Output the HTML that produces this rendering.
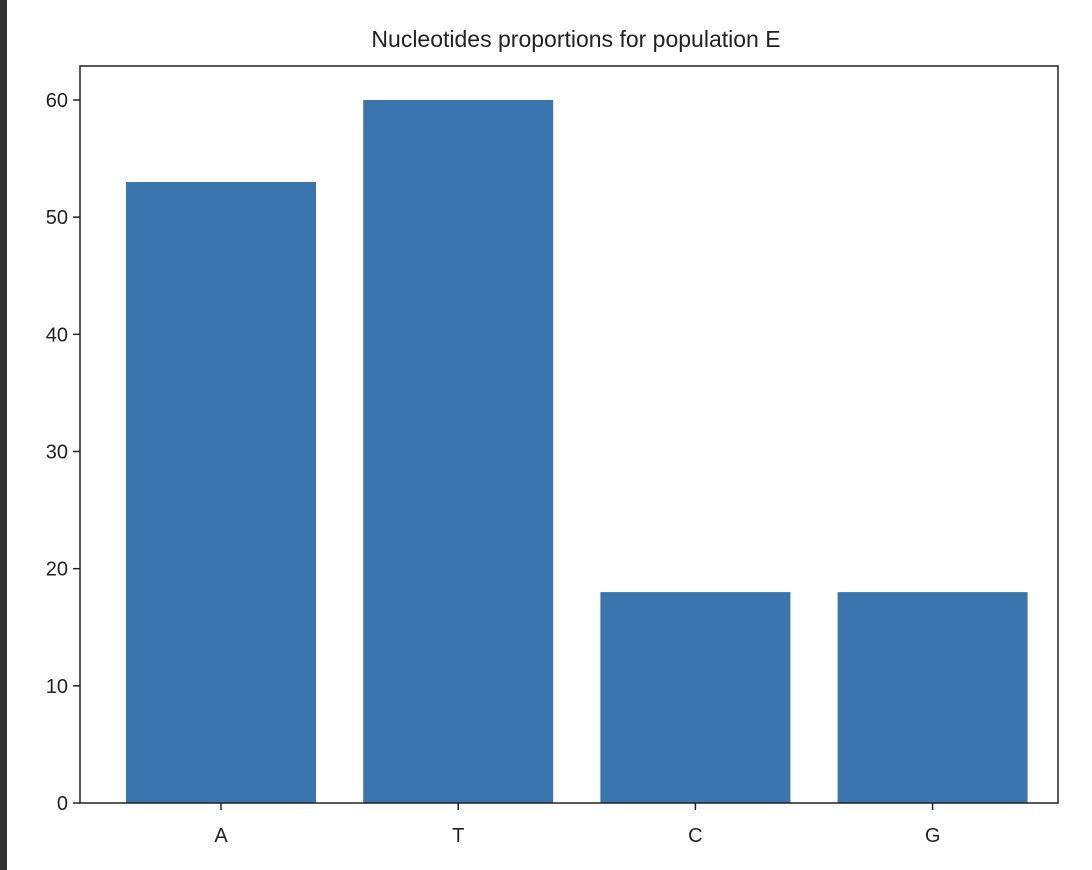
<!DOCTYPE html>
<html><head><meta charset="utf-8"><style>
body{margin:0;background:#fff;}
svg{display:block;font-family:"Liberation Sans","DejaVu Sans",sans-serif;}
</style></head><body>
<svg id="chart" width="1092" height="870">
<rect x="0" y="0" width="7" height="870" fill="#333"/>
<text x="576" y="47" text-anchor="middle" font-size="23" fill="#222">Nucleotides proportions for population E</text>
<g id="bars"></g>
<g id="yticks"></g>
<g id="xticks"></g>
<rect x="80" y="66" width="978" height="737" fill="none" stroke="#222" stroke-width="1.5"/>
</svg>
<script>
const categories = ["A","T","C","G"];
const values = [53,60,18,18];
const yTicks = [0,10,20,30,40,50,60];
const pL=80,pR=1058,pT=66,pB=803,yMax=62.9;
const yS=v=>pB-(v/yMax)*(pB-pT);
const xc=i=>221+i*237.2;
const ns="http://www.w3.org/2000/svg";
function mk(t,a,p){const e=document.createElementNS(ns,t);for(const k in a)e.setAttribute(k,a[k]);p.appendChild(e);return e;}
const bars=document.getElementById('bars'),yt=document.getElementById('yticks'),xt=document.getElementById('xticks');
categories.forEach((c,i)=>{
 const r=mk('rect',{x:xc(i)-95,y:yS(values[i]),width:190,height:pB-yS(values[i]),fill:'#3a75ae'},bars);
 
 
 const l=mk('line',{x1:xc(i),x2:xc(i),y1:pB,y2:pB+7,stroke:'#222','stroke-width':1.5},xt);
 
 
 const t=mk('text',{x:xc(i),y:pB+39,'text-anchor':'middle','font-size':20,fill:'#222'},xt);
 t.textContent=c;
 
 
});
yTicks.forEach(v=>{
 const l=mk('line',{x1:pL-7,x2:pL,y1:yS(v),y2:yS(v),stroke:'#222','stroke-width':1.5},yt);
 
 
 const t=mk('text',{x:pL-12,y:yS(v)+7,'text-anchor':'end','font-size':20,fill:'#222'},yt);
 t.textContent=v;
 
 
});
</script>
</body></html>
